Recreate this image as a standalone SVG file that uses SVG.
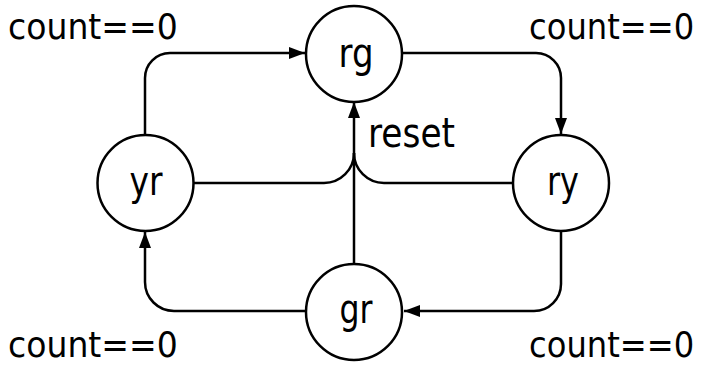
<svg xmlns="http://www.w3.org/2000/svg" width="703" height="369" viewBox="0 0 703 369">
<style>
.node{fill:#fff;stroke:#000;stroke-width:2.5}
.edge{fill:none;stroke:#000;stroke-width:2.5}
.lbl{font-family:"DejaVu Sans",sans-serif;font-size:40px;fill:#000;text-anchor:middle}
.cnt{font-family:"DejaVu Sans",sans-serif;font-size:35px;fill:#000}
</style>
<defs>
<marker id="arr" markerWidth="16" markerHeight="12" refX="16" refY="6" orient="auto" markerUnits="userSpaceOnUse">
<path d="M0,0 L16,6 L0,12 z" fill="#000"/>
</marker>
</defs>
<g id="connectors">
<path class="edge" d="M145,135 V78 A25,25 0 0 1 170,53 H305" marker-end="url(#arr)"/>
<path class="edge" d="M402,53 H536 A25,25 0 0 1 561,78 V134" marker-end="url(#arr)"/>
<path class="edge" d="M561,231 V284 A27,27 0 0 1 534,311 H404" marker-end="url(#arr)"/>
<path class="edge" d="M305,311 H174 A29,29 0 0 1 145,282 V232" marker-end="url(#arr)"/>
<path class="edge" d="M194,183 H324 A30,30 0 0 0 354,153"/>
<path class="edge" d="M513,183 H384 A30,30 0 0 1 354,153"/>
<path class="edge" d="M354,263 V102" marker-end="url(#arr)"/>
<text class="cnt" x="368" y="147" style="font-size:40px" textLength="87" lengthAdjust="spacingAndGlyphs">reset</text>
<text class="cnt" transform="translate(8,39) scale(0.945,1)">count==0</text>
<text class="cnt" transform="translate(529,39) scale(0.92,1)">count==0</text>
<text class="cnt" transform="translate(8,357) scale(0.945,1)">count==0</text>
<text class="cnt" transform="translate(529,357) scale(0.92,1)">count==0</text>
</g>
<g id="rg">
<circle class="node" cx="354" cy="54" r="48"/>
<text class="lbl" x="356" y="67" textLength="35" lengthAdjust="spacingAndGlyphs">rg</text>
</g>
<g id="yr">
<circle class="node" cx="145.5" cy="183" r="48"/>
<text class="lbl" x="146" y="195" textLength="33" lengthAdjust="spacingAndGlyphs">yr</text>
</g>
<g id="ry">
<circle class="node" cx="561" cy="183" r="48"/>
<text class="lbl" x="563" y="195" textLength="32" lengthAdjust="spacingAndGlyphs">ry</text>
</g>
<g id="gr">
<circle class="node" cx="354" cy="312" r="48"/>
<text class="lbl" x="356" y="323" textLength="33" lengthAdjust="spacingAndGlyphs">gr</text>
</g>
</svg>
